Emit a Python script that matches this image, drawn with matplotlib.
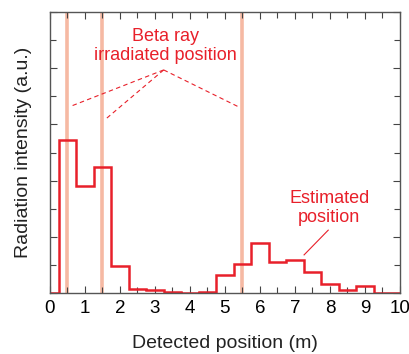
import numpy as np
import matplotlib
matplotlib.use("Agg")
import matplotlib.pyplot as plt
from matplotlib.ticker import MultipleLocator

plt.rcParams['font.family'] = ['Liberation Sans', 'DejaVu Sans']

# histogram data (bin edges every 0.5 m, centred on multiples of 0.5)
edges = [0, 0.25, 0.75, 1.25, 1.75, 2.25, 2.75, 3.25, 3.75, 4.25, 4.75,
         5.25, 5.75, 6.25, 6.75, 7.25, 7.75, 8.25, 8.75, 9.25, 10]
intensity = [0, 2.73, 1.91, 2.24, 0.49, 0.08, 0.05, 0.02, 0, 0.02, 0.33,
             0.52, 0.90, 0.56, 0.59, 0.37, 0.16, 0.05, 0.12, 0]
beta_pos = [0.5, 1.5, 5.5]

red = '#e8202a'

fig = plt.figure(figsize=(4.09, 3.54), dpi=100)
ax = fig.add_axes([0.122, 0.172, 0.856, 0.794])

for p in beta_pos:
    ax.axvline(p, color='#f6b9a3', lw=2.6, zorder=1)

ax.stairs(intensity, edges, color=red, lw=1.8, baseline=None, zorder=2)

# annotation: beta ray
ax.text(3.3, 4.40, "Beta ray\nirradiated position", color=red, fontsize=13,
        ha='center', va='center', linespacing=1.15)
apex = (3.25, 3.97)
for ex, ey in [(0.62, 3.33), (1.62, 3.11), (5.4, 3.31)]:
    ax.plot([apex[0], ex], [apex[1], ey], color=red, lw=0.8, ls=(0, (4, 3)))

# annotation: estimated position
ax.text(7.98, 1.52, "Estimated\nposition", color=red, fontsize=13,
        ha='center', va='center', linespacing=1.15)
ax.plot([7.95, 7.26], [1.12, 0.68], color=red, lw=0.8)

ax.set_xlim(0, 10)
ax.set_ylim(0, 5)
ax.xaxis.set_major_locator(MultipleLocator(1))
ax.xaxis.set_minor_locator(MultipleLocator(0.5))
ax.yaxis.set_major_locator(MultipleLocator(1))
ax.yaxis.set_minor_locator(MultipleLocator(0.5))
ax.tick_params(which='both', direction='in', top=True, right=True,
               color='#444444', width=0.8)
ax.tick_params(which='major', length=5, labelsize=13.5, pad=5)
ax.tick_params(which='minor', length=4)
ax.set_yticklabels([])
for s in ax.spines.values():
    s.set_color('#555555')
    s.set_linewidth(1.0)

ax.set_xlabel("Detected position (m)", fontsize=14, labelpad=13, color='#222222')
ax.set_ylabel("Radiation intensity (a.u.)", fontsize=14, labelpad=8, color='#222222')

fig.savefig("out.png", dpi=100)
